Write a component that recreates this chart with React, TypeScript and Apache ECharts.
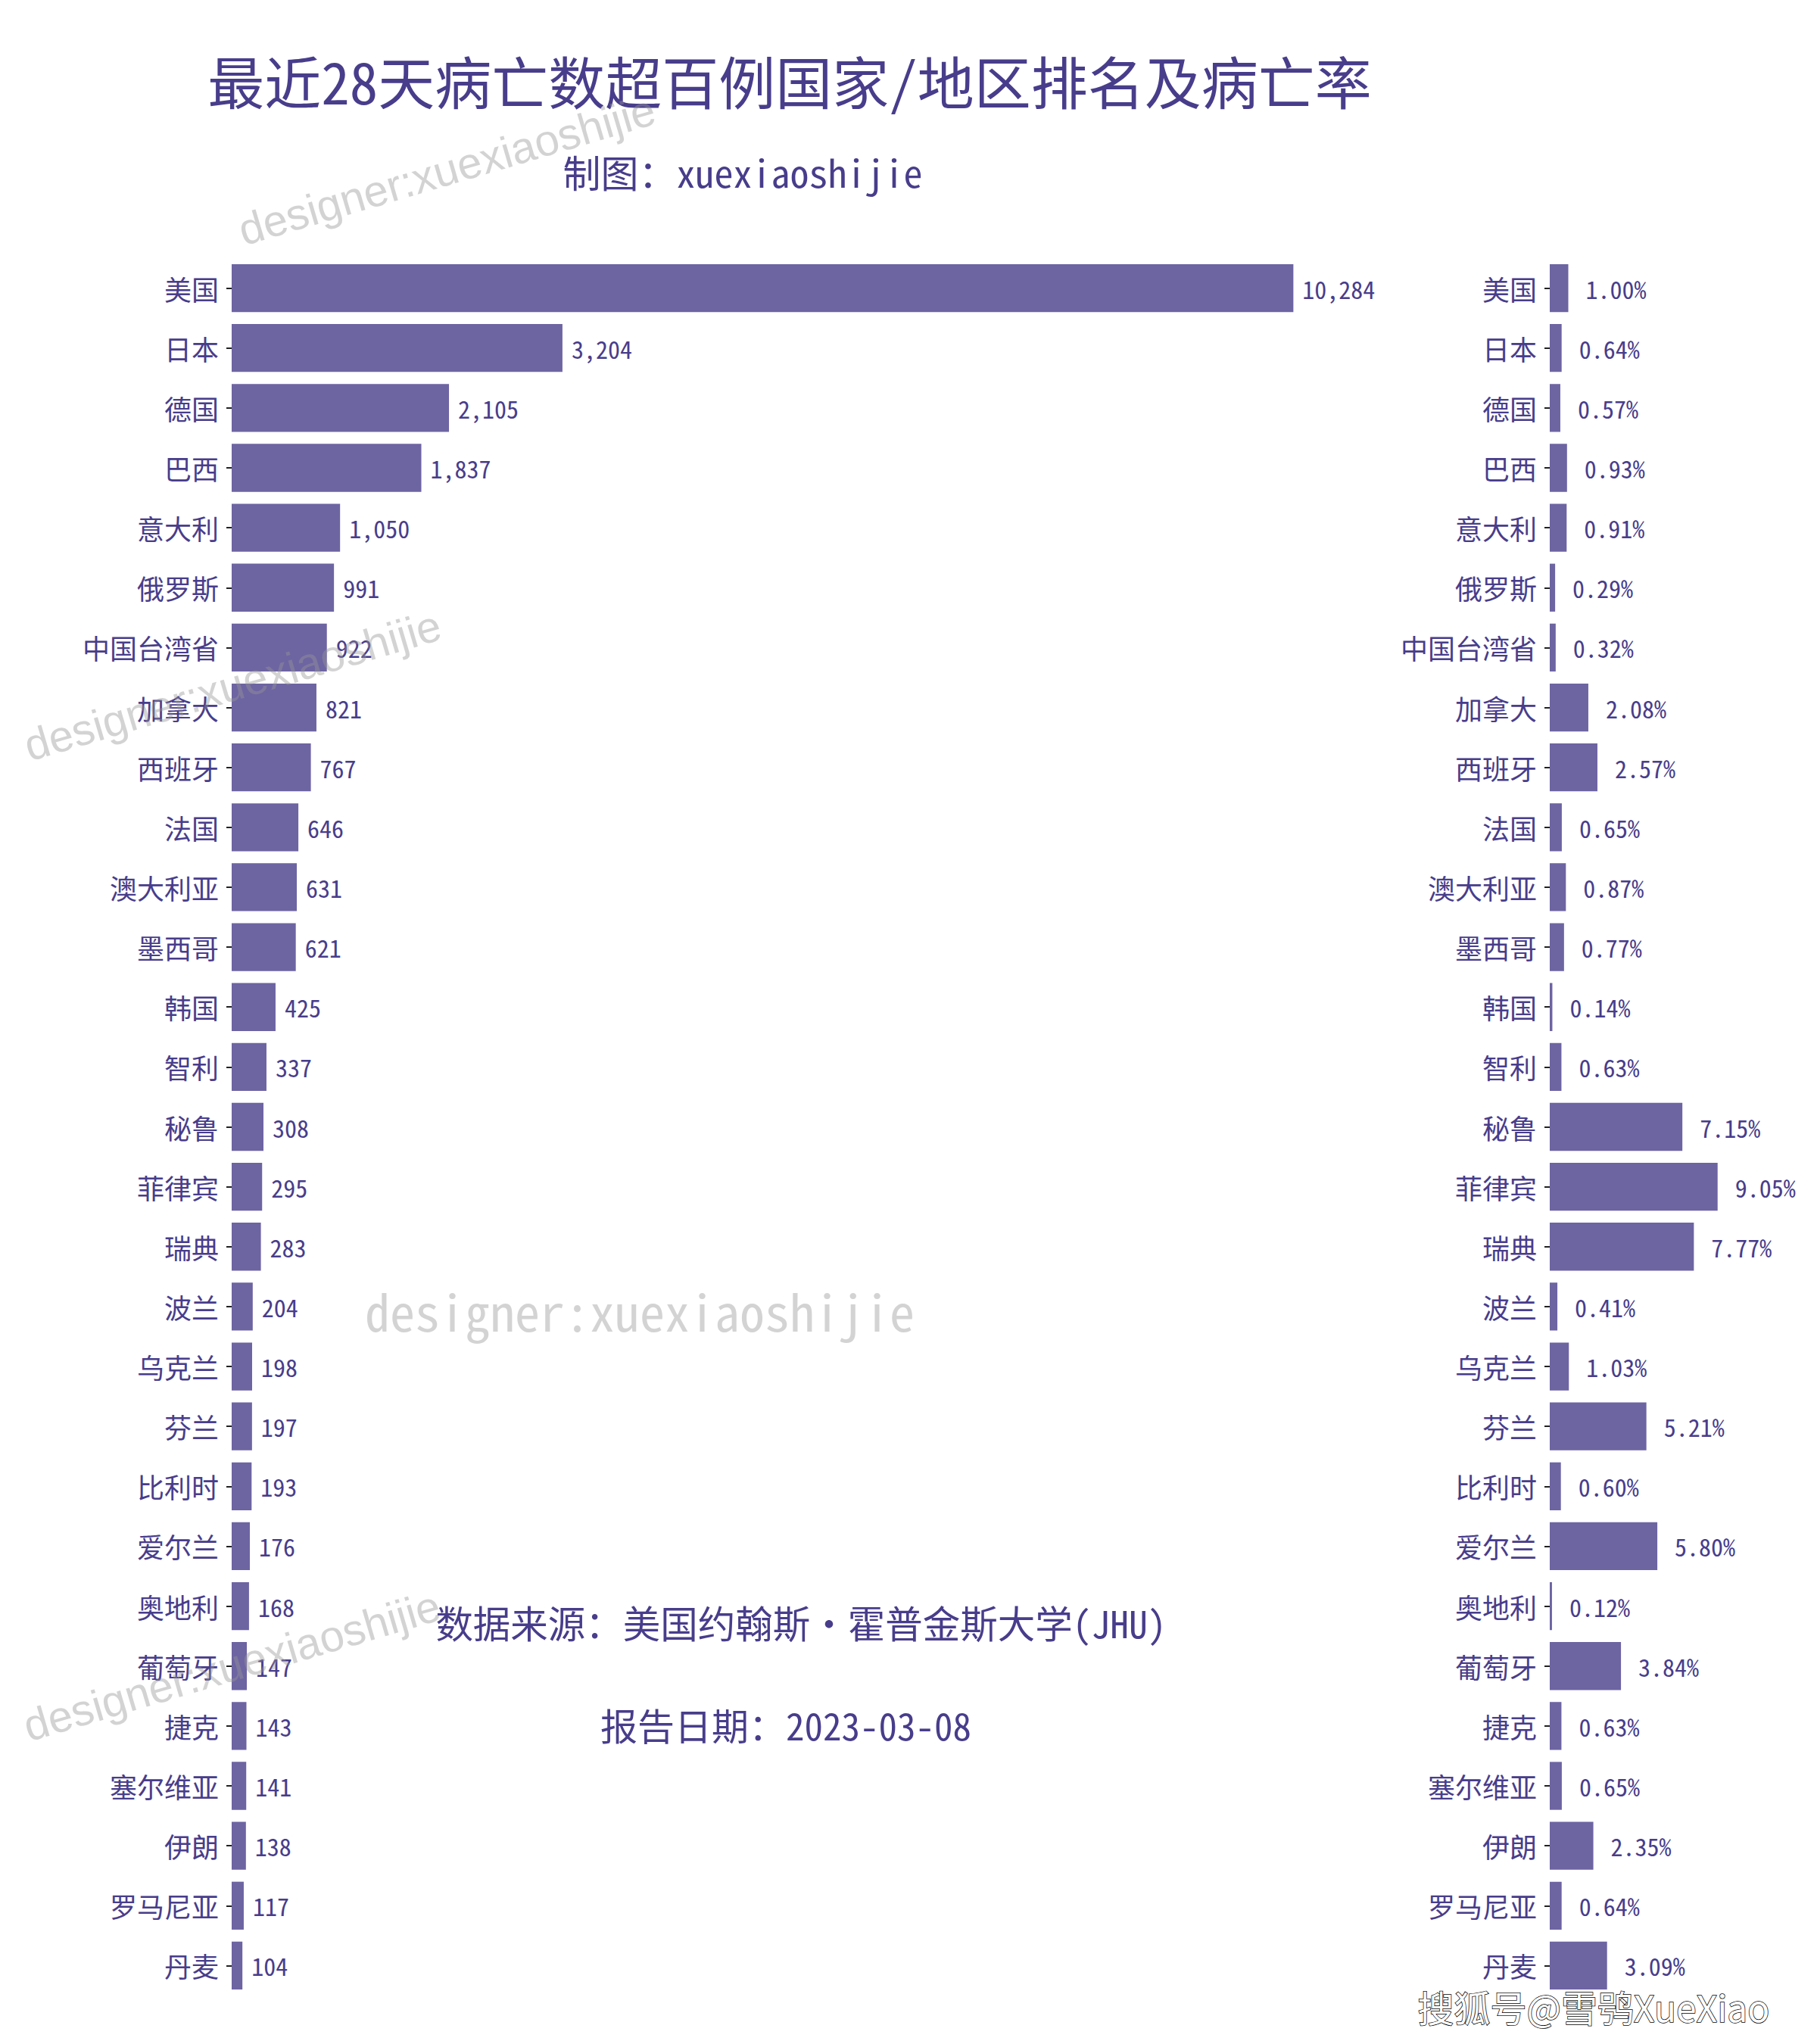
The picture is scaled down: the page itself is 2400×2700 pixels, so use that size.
import React, { useEffect, useRef } from "react";
import * as echarts from "echarts";

const categories = [
  "美国", "日本", "德国", "巴西", "意大利", "俄罗斯", "中国台湾省", "加拿大", "西班牙", "法国",
  "澳大利亚", "墨西哥", "韩国", "智利", "秘鲁", "菲律宾", "瑞典", "波兰", "乌克兰", "芬兰",
  "比利时", "爱尔兰", "奥地利", "葡萄牙", "捷克", "塞尔维亚", "伊朗", "罗马尼亚", "丹麦",
];
const deaths = [
  10284, 3204, 2105, 1837, 1050, 991, 922, 821, 767, 646,
  631, 621, 425, 337, 308, 295, 283, 204, 198, 197,
  193, 176, 168, 147, 143, 141, 138, 117, 104,
];
const rates = [
  1.0, 0.64, 0.57, 0.93, 0.91, 0.29, 0.32, 2.08, 2.57, 0.65,
  0.87, 0.77, 0.14, 0.63, 7.15, 9.05, 7.77, 0.41, 1.03, 5.21,
  0.6, 5.8, 0.12, 3.84, 0.63, 0.65, 2.35, 0.64, 3.09,
];
const titleText = "最近28天病亡数超百例国家/地区排名及病亡率";
const subtitleText = "制图：xuexiaoshijie";
const sourceText = "数据来源：美国约翰斯·霍普金斯大学(JHU)";
const dateText = "报告日期：2023-03-08";
const watermarkText = "designer:xuexiaoshijie";
const sohuText = "搜狐号@雪鸮XueXiao";

const FONT = "'Noto Sans Mono CJK SC', 'Noto Sans CJK SC', sans-serif";
const TEXT_COLOR = "#483D8B";
const BAR_COLOR = "rgba(72,61,139,0.8)";
const WM_COLOR = "rgba(150,150,150,0.42)";

function txt(text: string, x: number, y: number, fontSize: number, fill: string, extra: any = {}) {
  return {
    type: "text",
    x,
    y,
    z: 100,
    ...extra,
    style: {
      text,
      fontSize,
      fontFamily: FONT,
      fill,
      align: "center",
      verticalAlign: "middle",
      textAlign: "center",
      textVerticalAlign: "middle",
      ...(extra.style || {}),
    },
  };
}

export default function App() {
  const ref = useRef<HTMLDivElement>(null);
  useEffect(() => {
    document.body.style.margin = "0";
    if (!ref.current) return;
    const chart = echarts.init(ref.current, null, { renderer: "svg" });
    const rot = (16.5 * Math.PI) / 180;
    const wm = (x: number, y: number) => ({
      type: "text",
      x,
      y,
      rotation: rot,
      z: 100,
      style: {
        text: watermarkText,
        fontSize: 58,
        fontFamily: "'Liberation Sans', Arial, sans-serif",
        fill: WM_COLOR,
        align: "center",
        verticalAlign: "middle",
        textAlign: "center",
        textVerticalAlign: "middle",
      },
    });
    const yAxisBase = (gridIndex: number) => ({
      type: "category",
      gridIndex,
      data: categories,
      inverse: true,
      axisLine: { show: false },
      axisTick: {
        show: true,
        alignWithLabel: true,
        interval: 0,
        length: 7,
        lineStyle: { color: "#222", width: 2 },
      },
      axisLabel: { interval: 0, margin: 17, fontSize: 36, color: TEXT_COLOR, fontFamily: FONT },
      splitLine: { show: false },
    });
    const option: any = {
      animation: false,
      backgroundColor: "#ffffff",
      textStyle: { fontFamily: FONT },
      grid: [
        { left: 306, top: 341, width: 1500, height: 2295 },
        { left: 2047, top: 341, width: 245, height: 2295 },
      ],
      xAxis: [
        { type: "value", gridIndex: 0, min: 0, max: 11000, show: false },
        { type: "value", gridIndex: 1, min: 0, max: 10, show: false },
      ],
      yAxis: [yAxisBase(0), yAxisBase(1)],
      series: [
        {
          type: "bar",
          xAxisIndex: 0,
          yAxisIndex: 0,
          data: deaths,
          barCategoryGap: "20%",
          itemStyle: { color: BAR_COLOR },
          label: {
            show: true,
            position: "right",
            distance: 12,
            fontSize: 32,
            fontFamily: FONT,
            color: TEXT_COLOR,
            formatter: (p: any) => Number(p.value).toLocaleString("en-US"),
          },
        },
        {
          type: "bar",
          xAxisIndex: 1,
          yAxisIndex: 1,
          data: rates,
          barCategoryGap: "20%",
          itemStyle: { color: BAR_COLOR },
          label: {
            show: true,
            position: "right",
            distance: 23,
            fontSize: 32,
            fontFamily: FONT,
            color: TEXT_COLOR,
            formatter: (p: any) => Number(p.value).toFixed(2) + "%",
          },
        },
      ],
      graphic: [
        txt(titleText, 1043, 105, 75, TEXT_COLOR),
        txt(subtitleText, 981, 226, 50, TEXT_COLOR),
        txt(sourceText, 1058, 2142, 49.5, TEXT_COLOR),
        txt(dateText, 1038, 2277, 49, TEXT_COLOR),
        txt(watermarkText, 845, 1730, 66, WM_COLOR),
        wm(590, 224),
        wm(307, 905),
        wm(306, 2200),
        txt(sohuText, 2105, 2650, 48, "#ffffff", {
          style: {
            fontFamily: "'Noto Sans CJK SC', sans-serif",
            stroke: "#000000",
            lineWidth: 1.5,
            shadowColor: "#000000",
            shadowBlur: 0,
            shadowOffsetX: 3,
            shadowOffsetY: 3,
          },
        }),
      ],
    };
    chart.setOption(option);
    return () => chart.dispose();
  }, []);
  return <div ref={ref} style={{ width: 2400, height: 2700 }} />;
}
